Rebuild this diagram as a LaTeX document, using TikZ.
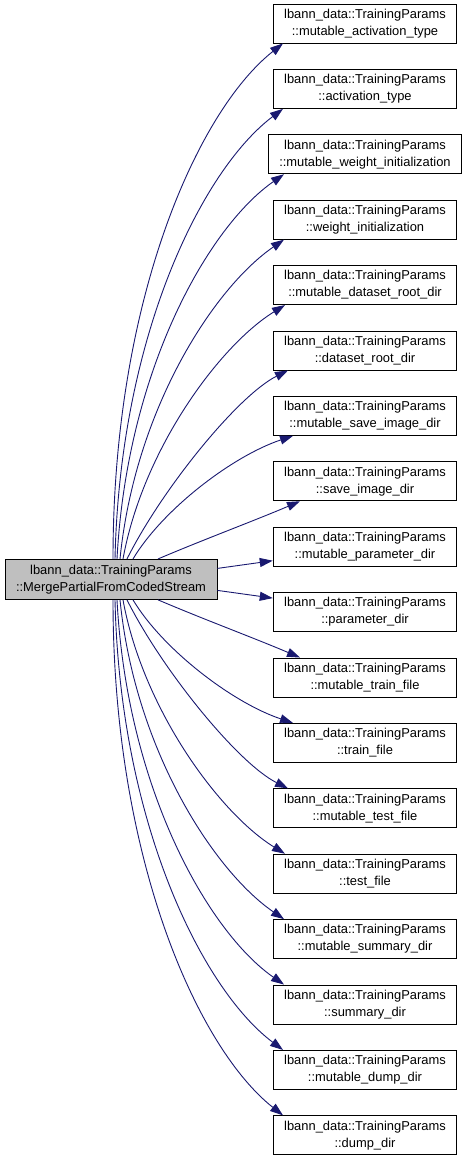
\documentclass[tikz,border=0pt]{standalone}
\usepackage{fontspec}
\setmainfont{Liberation Sans}
\usetikzlibrary{arrows.meta,calc}
\definecolor{edgeblue}{HTML}{191970}
\definecolor{rootgray}{HTML}{BFBFBF}
\tikzset{
  fnbox/.style={draw=black, line width=0.9pt, fill=white, align=center, inner xsep=11pt, inner ysep=2pt, minimum height=39pt,
    font=\fontsize{12.9}{17}\selectfont},
  rootbox/.style={fnbox, fill=rootgray, minimum height=40pt},
  edge/.style={draw=edgeblue, line width=0.9pt, -{Triangle[length=13pt,width=9pt]}}
}
\begin{document}
\begin{tikzpicture}[x=1pt,y=-1pt]
\useasboundingbox (0,0) rectangle (469,1161);
\node[rootbox] (src) at (111,579.4) {lbann\_data::TrainingParams\\::MergePartialFromCodedStream};
\foreach \i/\t in {1/mutable\_activation\_type,2/activation\_type,3/mutable\_weight\_initialization,4/weight\_initialization,5/mutable\_dataset\_root\_dir,6/dataset\_root\_dir,7/mutable\_save\_image\_dir,8/save\_image\_dir,9/mutable\_parameter\_dir,10/parameter\_dir,11/mutable\_train\_file,12/train\_file,13/mutable\_test\_file,14/test\_file,15/mutable\_summary\_dir,16/summary\_dir,17/mutable\_dump\_dir,18/dump\_dir}{
  \node[fnbox] (t\i) at (365,{23.5+(\i-1)*65.4}) {lbann\_data::TrainingParams\\::\t};
}
\foreach \k/\sx/\ex/\ax/\ay/\bx/\by in {1/113/-82/0/260/-85/67,2/115/-82/5/225/-80/60,3/117/-81/10/190/-75/52,4/120/-81/15/150/-70/48,5/123/-80/20/110/-65/40,6/127/-77/35/70/-50/25,7/133/-72/30/50/-60/20,8/158/-65/47/20/-47/20}{
  \pgfmathtruncatemacro{\m}{19-\k}
  \draw[edge] ($(src.north)+(\sx-111,0)$) .. controls +(\ax,-\ay) and +(\bx,\by) .. ($(t\k.south)+(\ex,0)$);
  \draw[edge] ($(src.south)+(\sx-111,0)$) .. controls +(\ax,\ay) and +(\bx,-\by) .. ($(t\m.north)+(\ex,0)$);
}
\draw[edge] ($(src.east)+(0,-11)$) -- ($(t9.west)+(0,14)$);
\draw[edge] ($(src.east)+(0,11)$) -- ($(t10.west)+(0,-14)$);
\end{tikzpicture}
\end{document}
